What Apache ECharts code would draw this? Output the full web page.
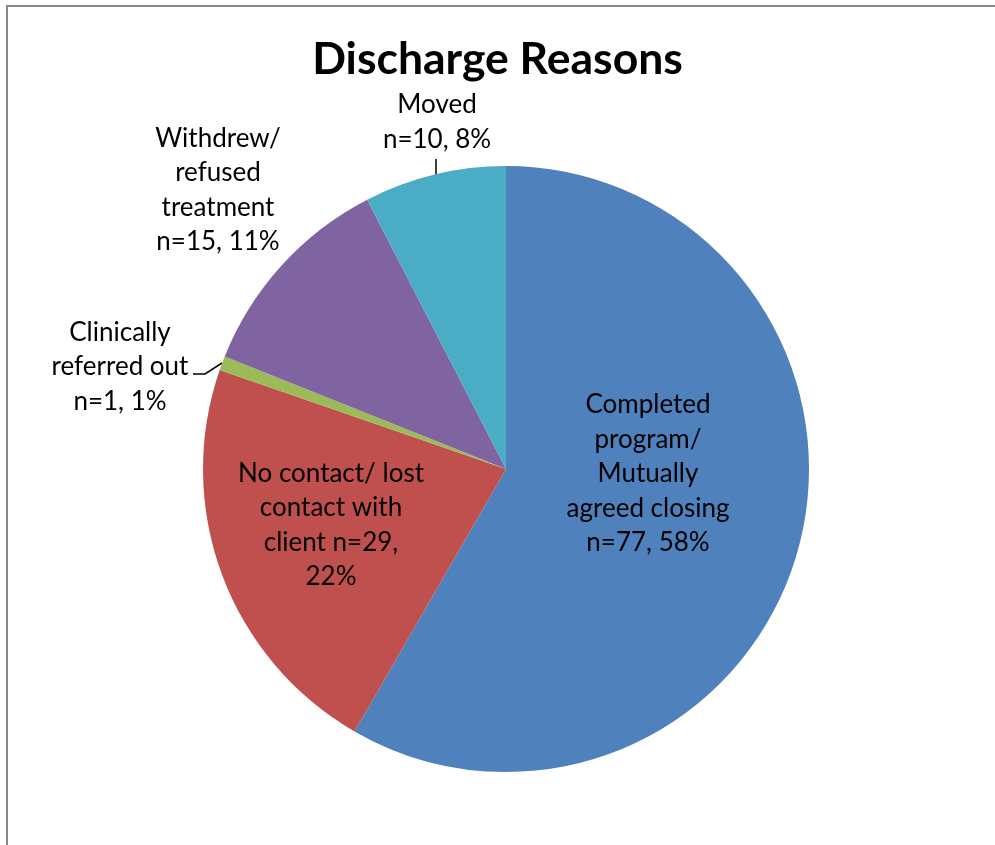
<!DOCTYPE html>
<html>
<head>
<meta charset="utf-8">
<script src="https://cdn.jsdelivr.net/npm/echarts@6/dist/echarts.min.js"></script>
<style>
  html, body { margin: 0; padding: 0; background: #fff; }
  #chart { width: 995px; height: 845px; }
</style>
</head>
<body>
<div id="chart"></div>
<script>
var reasons = [
  "Completed program/ Mutually agreed closing",
  "No contact/ lost contact with client",
  "Clinically referred out",
  "Withdrew/ refused treatment",
  "Moved"
];
var counts = [77, 29, 1, 15, 10];
var sliceLabels = [
  "Completed\nprogram/\nMutually\nagreed closing\nn=77, 58%",
  "No contact/ lost\ncontact with\nclient n=29,\n22%",
  "Clinically\nreferred out\nn=1, 1%",
  "Withdrew/\nrefused\ntreatment\nn=15, 11%",
  "Moved\nn=10, 8%"
];
var colors = ["#4F81BD", "#C0504D", "#9BBB59", "#8064A2", "#4BACC6"];

// where each label sits, and leader lines for the small slices
var labelSpots = [
  { x: 648, y: 474 },
  { x: 331, y: 525 },
  { x: 120, y: 367, line: [[222, 363], [205, 374], [193, 374]] },
  { x: 218, y: 190 },
  { x: 437, y: 122, line: [[436, 175], [436, 160], [436, 159]] }
];

var chart = echarts.init(document.getElementById("chart"));

var pieData = reasons.map(function (r, i) {
  return {
    name: r,
    value: counts[i],
    itemStyle: { color: colors[i] },
    label: { formatter: sliceLabels[i] },
    labelLine: { show: !!labelSpots[i].line }
  };
});

chart.setOption({
  animation: false,
  title: {
    text: "Discharge Reasons",
    left: "center",
    top: 32,
    textStyle: { fontFamily: "Lato", fontWeight: "bold", fontSize: 44.5, color: "#000" }
  },
  graphic: [{
    type: "rect",
    shape: { x: 7, y: 6, width: 1100, height: 1000 },
    style: { fill: null, stroke: "#888", lineWidth: 2 },
    silent: true
  }],
  series: [{
    type: "pie",
    center: [506, 469],
    radius: 303,
    startAngle: 90,
    clockwise: true,
    avoidLabelOverlap: false,
    data: pieData,
    itemStyle: { borderWidth: 0 },
    label: {
      show: true,
      position: "outside",
      fontFamily: "Lato",
      fontSize: 26,
      lineHeight: 34.5,
      color: "#000",
      align: "center"
    },
    labelLine: {
      lineStyle: { color: "#000", width: 1.5 },
      length: 10,
      length2: 10
    },
    emphasis: { disabled: true },
    labelLayout: function (p) {
      var s = labelSpots[p.dataIndex];
      var out = { x: s.x, y: s.y, align: "center", verticalAlign: "middle" };
      if (s.line) out.labelLinePoints = s.line;
      return out;
    }
  }]
});
</script>
</body>
</html>
